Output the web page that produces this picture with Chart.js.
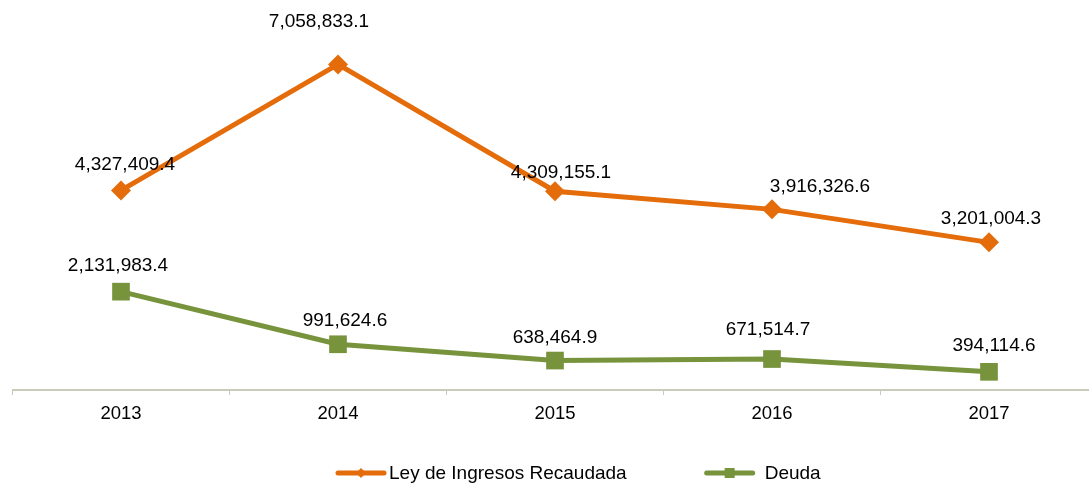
<!DOCTYPE html>
<html lang="es">
<head>
    <meta charset="UTF-8">
    <title>Ley de Ingresos Recaudada y Deuda</title>
    <style>
        body {
            margin: 0;
            background: #fff;
            overflow: hidden;
            font-family: "Liberation Sans", Arial, sans-serif;
        }
        #chart {
            display: block;
        }
    </style>
</head>
<body>
    <canvas id="chart" width="1110" height="485"></canvas>

    <script src="https://cdn.jsdelivr.net/npm/chart.js"></script>
    <script>
        // datos
        const years = ['2013', '2014', '2015', '2016', '2017'];
        const ingresos = [4327409.4, 7058833.1, 4309155.1, 3916326.6, 3201004.3];
        const deuda = [2131983.4, 991624.6, 638464.9, 671514.7, 394114.6];
        const seriesNames = ['Ley de Ingresos Recaudada', 'Deuda'];

        const orange = '#E46C0A';
        const green = '#77933C';
        const axisColor = '#cbcbbb';
        const fontFam = '"Liberation Sans", Arial, sans-serif';

        // desplazamiento de las etiquetas (dx, altura sobre el punto)
        const labelShift = [
            [[4, 26], [-19, 43], [6, 18], [48, 23], [2, 24]],
            [[-3, 26], [7, 23], [0, 23], [-4, 29], [5, 26]]
        ];

        function fmt(v) {
            return v.toLocaleString('en-US', { minimumFractionDigits: 1, maximumFractionDigits: 1 });
        }

        const valueLabels = {
            id: 'valueLabels',
            afterDatasetsDraw(chart) {
                const ctx = chart.ctx;
                ctx.save();
                ctx.font = '19px ' + fontFam;
                ctx.fillStyle = '#000';
                ctx.textAlign = 'center';
                ctx.textBaseline = 'middle';
                chart.data.datasets.forEach((ds, i) => {
                    chart.getDatasetMeta(i).data.forEach((pt, j) => {
                        const s = labelShift[i][j];
                        ctx.fillText(fmt(ds.data[j]), pt.x + s[0], pt.y - s[1]);
                    });
                });
                ctx.restore();
            }
        };

        // leyenda abajo con linea y marcador
        const bottomLegend = {
            id: 'bottomLegend',
            afterDraw(chart) {
                const ctx = chart.ctx;
                ctx.save();
                ctx.font = '19px ' + fontFam;
                ctx.textBaseline = 'middle';
                const y = 473;
                const lineW = 50, gapItem = 78;
                const gapText = [3, 10];
                let x = 336;
                chart.data.datasets.forEach((ds, i) => {
                    ctx.strokeStyle = ds.borderColor;
                    ctx.fillStyle = ds.borderColor;
                    ctx.lineWidth = 5;
                    ctx.lineCap = 'round';
                    ctx.beginPath();
                    ctx.moveTo(x + 2, y);
                    ctx.lineTo(x + lineW - 2, y);
                    ctx.stroke();
                    const cx = x + lineW / 2;
                    ctx.beginPath();
                    if (i === 0) {
                        ctx.moveTo(cx - 5, y); ctx.lineTo(cx, y - 5);
                        ctx.lineTo(cx + 5, y); ctx.lineTo(cx, y + 5);
                    } else {
                        ctx.rect(cx - 5, y - 5, 10, 10);
                    }
                    ctx.fill();
                    ctx.fillStyle = '#000';
                    ctx.fillText(seriesNames[i], x + lineW + gapText[i], y + 1);
                    x += lineW + gapText[i] + ctx.measureText(seriesNames[i]).width + gapItem;
                });
                ctx.restore();
            }
        };

        const ctx = document.getElementById('chart').getContext('2d');
        new Chart(ctx, {
            type: 'line',
            data: {
                labels: years,
                datasets: [{
                    label: seriesNames[0],
                    data: ingresos,
                    borderColor: orange,
                    backgroundColor: orange,
                    borderWidth: 5,
                    pointStyle: 'rectRot',
                    pointRadius: 10,
                    pointBorderWidth: 0,
                    tension: 0
                }, {
                    label: seriesNames[1],
                    data: deuda,
                    borderColor: green,
                    backgroundColor: green,
                    borderWidth: 5,
                    pointStyle: 'rect',
                    pointRadius: 12.5,
                    pointBorderWidth: 0,
                    tension: 0
                }]
            },
            options: {
                responsive: false,
                animation: false,
                devicePixelRatio: 1,
                layout: { padding: { left: 9.5, right: 0, top: 21, bottom: 0 } },
                plugins: {
                    legend: { display: false },
                    tooltip: { enabled: false }
                },
                scales: {
                    x: {
                        offset: true,
                        grid: {
                            offset: true,
                            drawOnChartArea: false,
                            drawTicks: true,
                            tickLength: 5,
                            color: axisColor
                        },
                        border: { display: true, color: axisColor, width: 2 },
                        ticks: {
                            color: '#000',
                            padding: 8,
                            font: { family: fontFam, size: 18.5 }
                        },
                        afterFit(scale) { scale.height = 95; }
                    },
                    y: {
                        display: false,
                        min: 0,
                        max: 8000000
                    }
                }
            },
            plugins: [valueLabels, bottomLegend]
        });
    </script>
</body>
</html>
